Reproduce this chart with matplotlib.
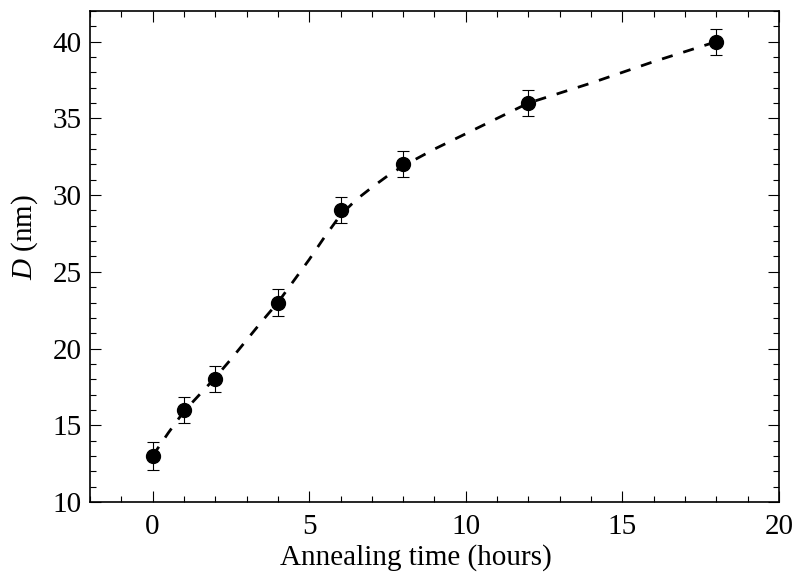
import matplotlib
matplotlib.use("Agg")
import matplotlib.pyplot as plt
from matplotlib.ticker import MultipleLocator

plt.rcParams["font.family"] = ["Liberation Serif", "DejaVu Serif"]
plt.rcParams["mathtext.fontset"] = "custom"
plt.rcParams["mathtext.rm"] = "Liberation Serif"
plt.rcParams["mathtext.it"] = "Liberation Serif:italic"

# Measured grain size vs annealing time
time_h = [0, 1, 2, 4, 6, 8, 12, 18]
size_nm = [13, 16, 18, 23, 29, 32, 36, 40]
size_err = [0.9, 0.85, 0.85, 0.85, 0.85, 0.85, 0.85, 0.85]

# Guide-to-the-eye curve
fit_t = [0, 0.5, 1, 1.5, 2, 2.5, 3, 3.5, 4, 4.5, 5, 5.5, 6, 6.5, 7, 7.5, 8,
         9, 10, 11, 12, 13, 14, 15, 16, 17, 18]
fit_d = [13.0, 14.5, 15.9, 17.0, 18.1, 19.3, 20.55, 21.8, 23.0, 24.4, 25.8,
         27.3, 28.7, 29.7, 30.5, 31.25, 31.9, 33.0, 34.0, 35.0, 36.0, 36.65,
         37.3, 38.0, 38.7, 39.35, 40.0]

FS = 21

fig = plt.figure(figsize=(7.96, 5.77), dpi=100)
ax = fig.add_axes([0.113, 0.130, 0.8657, 0.851])

ax.plot(fit_t, fit_d, color="black", lw=2.0, dashes=(4, 4), zorder=2)
ax.errorbar(time_h, size_nm, yerr=size_err, fmt="o", color="black",
            markersize=10, ecolor="black", elinewidth=0.8, capsize=4,
            capthick=0.8, zorder=3)

ax.set_xlim(-2, 20)
ax.set_ylim(10, 42)
ax.xaxis.set_major_locator(MultipleLocator(5))
ax.xaxis.set_minor_locator(MultipleLocator(1))
ax.yaxis.set_major_locator(MultipleLocator(5))
ax.yaxis.set_minor_locator(MultipleLocator(1))

ax.tick_params(which="both", direction="in", top=True, right=True,
               width=0.8, labelsize=FS)
ax.tick_params(which="major", length=8)
ax.tick_params(which="minor", length=4.5)
ax.tick_params(axis="x", which="major", pad=9)
ax.tick_params(axis="y", which="major", pad=6)
for sp in ax.spines.values():
    sp.set_linewidth(1.2)

ax.set_xlabel("Annealing time (hours)", fontsize=FS)
ax.set_ylabel(r"$\mathit{D}$ (nm)", fontsize=FS)
ax.xaxis.set_label_coords(0.473, -0.085)
ax.yaxis.set_label_coords(-0.073, 0.54)

fig.savefig("out.png", dpi=100)
